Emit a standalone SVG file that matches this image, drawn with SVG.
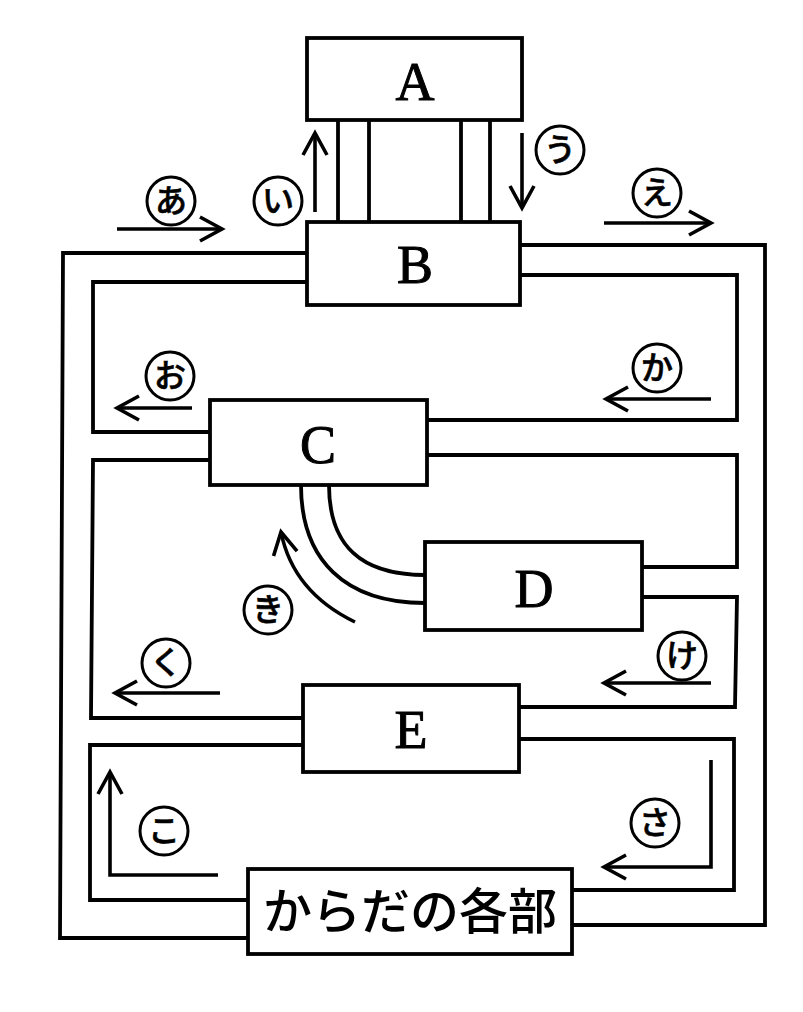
<svg xmlns="http://www.w3.org/2000/svg" width="803" height="1012" viewBox="0 0 803 1012">
<style>
.box{fill:#fff;stroke:#000;stroke-width:3.8}
.pipe{fill:none;stroke:#000;stroke-width:3.8;stroke-linejoin:miter}
.arr{fill:none;stroke:#000;stroke-width:3.6}
.lt{font-family:"Liberation Serif","DejaVu Serif",serif;font-size:54px;text-anchor:middle;fill:#000;stroke:#000;stroke-width:1}
.circ{fill:#fff;stroke:#000;stroke-width:3}
.jp{font-family:"Noto Sans CJK JP","Noto Sans CJK SC",sans-serif;font-size:32px;font-weight:500;text-anchor:middle;fill:#000;stroke:#000;stroke-width:0.6}
.body{font-family:"Noto Sans CJK JP","Noto Sans CJK SC",sans-serif;font-size:49px;font-weight:500;text-anchor:middle;fill:#000}
</style>
<defs>
<marker id="ah" markerUnits="userSpaceOnUse" markerWidth="30" markerHeight="30" viewBox="-26 -15 30 30" refX="0" refY="0" orient="auto">
<path d="M-22,-12 L0,0 L-22,12" fill="none" stroke="#000" stroke-width="3.6"/>
</marker>
</defs>
<rect width="803" height="1012" fill="#fff"/>
<g id="connectors">
<line class="pipe" x1="338" y1="120" x2="338" y2="222"/>
<line class="pipe" x1="369" y1="120" x2="369" y2="222"/>
<line class="pipe" x1="461" y1="120" x2="461" y2="222"/>
<line class="pipe" x1="490" y1="120" x2="490" y2="222"/>
<polyline class="pipe" points="307,253 63,253 60,938 248,938"/>
<polyline class="pipe" points="520,245 765,245 765,925 572,925"/>
<polyline class="pipe" points="307,282 93,282 93,432 210,432"/>
<polyline class="pipe" points="520,275 737,275 737,420 427,420"/>
<polyline class="pipe" points="210,460 93,460 91,718 303,718"/>
<polyline class="pipe" points="427,455 737,455 737,567 642,567"/>
<polyline class="pipe" points="642,597 737,597 735,707 519,707"/>
<polyline class="pipe" points="303,745 90,745 90,900 248,900"/>
<polyline class="pipe" points="519,739 734,739 734,890 572,890"/>
<path class="pipe" d="M301,485 C301,560 345,603 425,603"/>
<path class="pipe" d="M329,485 C329,545 360,575 425,575"/>
<line class="arr" x1="117" y1="229" x2="222" y2="229" marker-end="url(#ah)"/>
<line class="arr" x1="315" y1="212" x2="315" y2="133" marker-end="url(#ah)"/>
<line class="arr" x1="522" y1="133" x2="522" y2="208" marker-end="url(#ah)"/>
<line class="arr" x1="604" y1="223" x2="711" y2="223" marker-end="url(#ah)"/>
<line class="arr" x1="192" y1="408" x2="117" y2="408" marker-end="url(#ah)"/>
<line class="arr" x1="711" y1="399" x2="606" y2="399" marker-end="url(#ah)"/>
<path class="arr" d="M355,622 Q293,592 281,532" marker-end="url(#ah)"/>
<line class="arr" x1="220" y1="693" x2="115" y2="693" marker-end="url(#ah)"/>
<line class="arr" x1="711" y1="683" x2="604" y2="683" marker-end="url(#ah)"/>
<polyline class="arr" points="218,875 110,875 110,772" marker-end="url(#ah)"/>
<polyline class="arr" points="711,760 711,867 604,867" marker-end="url(#ah)"/>
</g>
<g id="nodeA"><rect class="box" x="307" y="38" width="215" height="82"/><text class="lt" x="415" y="100">A</text></g>
<g id="nodeB"><rect class="box" x="307" y="222" width="213" height="83"/><text class="lt" x="415" y="283">B</text></g>
<g id="nodeC"><rect class="box" x="210" y="400" width="217" height="85"/><text class="lt" x="318" y="463">C</text></g>
<g id="nodeD"><rect class="box" x="425" y="542" width="217" height="88"/><text class="lt" x="534" y="607">D</text></g>
<g id="nodeE"><rect class="box" x="303" y="685" width="216" height="87"/><text class="lt" x="411" y="748">E</text></g>
<g id="nodeBody"><rect class="box" x="248" y="869" width="324" height="85"/><text class="body" x="410" y="929">からだの各部</text></g>
<g id="labels">
<g><circle class="circ" cx="171" cy="201" r="24"/><text class="jp" x="171" y="212">あ</text></g>
<g><circle class="circ" cx="278" cy="201" r="24"/><text class="jp" x="278" y="212">い</text></g>
<g><circle class="circ" cx="560" cy="150" r="24"/><text class="jp" x="560" y="161">う</text></g>
<g><circle class="circ" cx="657" cy="193" r="24"/><text class="jp" x="657" y="204">え</text></g>
<g><circle class="circ" cx="170" cy="376" r="24"/><text class="jp" x="170" y="387">お</text></g>
<g><circle class="circ" cx="657" cy="368" r="24"/><text class="jp" x="657" y="379">か</text></g>
<g><circle class="circ" cx="268" cy="610" r="24"/><text class="jp" x="268" y="621">き</text></g>
<g><circle class="circ" cx="166" cy="663" r="24"/><text class="jp" x="166" y="674">く</text></g>
<g><circle class="circ" cx="682" cy="656" r="24"/><text class="jp" x="682" y="667">け</text></g>
<g><circle class="circ" cx="164" cy="831" r="24"/><text class="jp" x="164" y="842">こ</text></g>
<g><circle class="circ" cx="655" cy="823" r="24"/><text class="jp" x="655" y="834">さ</text></g>
</g>
</svg>
